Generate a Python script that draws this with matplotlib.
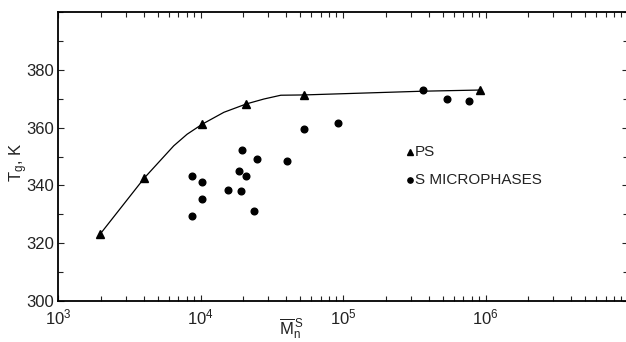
import matplotlib
matplotlib.use('Agg')
import matplotlib.pyplot as plt
import matplotlib.ticker as mticker

plt.rcParams['font.family'] = ['Liberation Sans', 'DejaVu Sans']
plt.rcParams['mathtext.default'] = 'regular'

# -------------------------------------------------------------------------------------
# Data
ps_mn = [1.98e3, 4.04e3, 1.03e4, 2.1e4, 5.3e4, 9.2e5]
ps_tg = [323.2, 342.6, 361.2, 368.2, 371.3, 373.0]

micro_mn = [8.65e3, 1.03e4, 1.03e4, 8.65e3, 1.55e4, 1.85e4, 1.91e4, 2.07e4, 2.36e4,
            1.95e4, 2.48e4, 4.04e4, 5.31e4, 9.22e4, 3.66e5, 5.4e5, 7.6e5]
micro_tg = [343.3, 341.2, 335.3, 329.4, 338.4, 345.0, 338.1, 343.3, 331.1,
            352.2, 349.1, 348.4, 359.5, 361.6, 373.0, 369.9, 369.2]

# hand-drawn trend curve through the PS points
curve_mn = [1.98e3, 4.04e3, 6.49e3, 8.05e3, 1.03e4, 1.46e4, 2.1e4, 2.79e4, 3.66e4,
            5.3e4, 3.66e5, 9.2e5]
curve_tg = [323.2, 342.6, 353.7, 357.7, 361.2, 365.3, 368.2, 369.9, 371.2,
            371.3, 372.6, 373.0]

x_major = [1e3, 1e4, 1e5, 1e6]
y_major = [300, 320, 340, 360, 380]
legend_labels = ['PS', 'S MICROPHASES']
# -------------------------------------------------------------------------------------

fig = plt.figure(figsize=(6.26, 3.42), dpi=100)
ax = fig.add_axes([58 / 626, 1 - 301 / 342, (628 - 58) / 626, 289 / 342])

ax.plot(curve_mn, curve_tg, color='black', lw=0.9, zorder=2)
ax.plot(ps_mn, ps_tg, linestyle='none', marker='^', ms=5.5, color='black', zorder=3)
ax.plot(micro_mn, micro_tg, linestyle='none', marker='o', ms=4.8, color='black', zorder=3)

ax.set_xscale('log')
ax.set_xlim(1e3, 1e7)
ax.set_ylim(300, 400)

ax.xaxis.set_major_locator(mticker.FixedLocator(x_major))
ax.xaxis.set_minor_locator(mticker.LogLocator(base=10, subs=range(2, 10), numticks=20))
ax.xaxis.set_minor_formatter(mticker.NullFormatter())
ax.yaxis.set_major_locator(mticker.FixedLocator(y_major))
ax.yaxis.set_minor_locator(mticker.MultipleLocator(10))

ax.tick_params(which='both', direction='in', top=True, right=True, width=0.8,
               labelsize=12, colors='#222222')
ax.tick_params(which='major', length=4.5, pad=3)
ax.tick_params(which='minor', length=3.5)
ax.tick_params(axis='x', which='major', pad=5)
for sp in ax.spines.values():
    sp.set_linewidth(1.3)

ax.set_ylabel('$T_g$, K', fontsize=12, color='#222222')
ax.yaxis.set_label_coords(-0.05, 0.48)
ax.set_xlabel(r'$\overline{M}_n^{\,S}$', fontsize=12, color='#222222')
ax.xaxis.set_label_coords(0.41, -0.052)

# legend drawn as markers + text
ax.plot([0.618], [0.515], transform=ax.transAxes, marker='^', ms=4.5, color='black',
        linestyle='none', clip_on=False)
ax.text(0.626, 0.515, legend_labels[0], transform=ax.transAxes, fontsize=11,
        va='center', ha='left', color='#222222')
ax.plot([0.618], [0.418], transform=ax.transAxes, marker='o', ms=3.8, color='black',
        linestyle='none', clip_on=False)
ax.text(0.626, 0.418, legend_labels[1], transform=ax.transAxes, fontsize=11,
        va='center', ha='left', color='#222222')

fig.savefig('out.png', dpi=100)
plt.close()
